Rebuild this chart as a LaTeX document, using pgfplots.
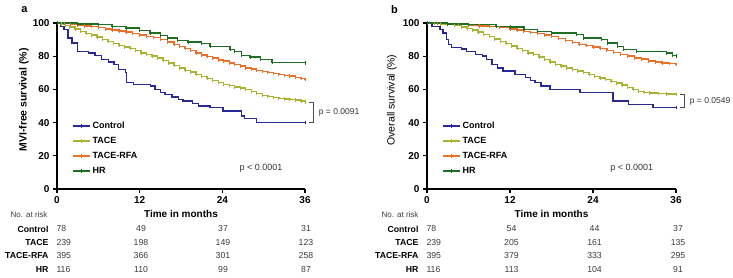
\documentclass[border=0pt]{standalone}
\usepackage{pgfplots}
\pgfplotsset{compat=1.18}
\usepackage{fontspec}
\setmainfont{Liberation Sans}
\definecolor{cctrl}{RGB}{40,40,150}
\definecolor{ctace}{RGB}{170,178,50}
\definecolor{crfa}{RGB}{232,112,40}
\definecolor{chr}{RGB}{30,110,35}
\definecolor{numgray}{RGB}{60,60,60}

\pgfplotsset{
 km/.style={const plot, line width=1.4pt, mark=|, mark size=1.7pt, mark options={solid,line width=0.7pt}},
 kmaxis/.style={
  scale only axis, height=166pt,
  xmin=0, xmax=36, ymin=0, ymax=100,
  axis x line*=bottom, axis y line*=left,
  axis line style={line width=1.4pt,-},
  xtick={0,12,24,36}, ytick={0,20,40,60,80,100},
  tick align=outside, major tick length=4pt,
  tick style={line width=1.1pt,black},
  ticklabel style={font=\fontsize{10}{12}\selectfont\bfseries},
  /pgf/number format/assume math mode=true,
  clip=false,
  legend style={at={(0.048,0.43)}, anchor=north west, draw=none, fill=none,
    font=\fontsize{9}{11}\selectfont\bfseries, row sep=3.2pt, cells={anchor=west}},
  legend cell align=left,
 }
}

\begin{document}
\begin{tikzpicture}
\path[use as bounding box] (0,0) rectangle (733pt,278pt);

% ---------------- Panel a ----------------
\begin{axis}[kmaxis, width=248pt, at={(57pt,89pt)}, anchor=south west]
\addlegendimage{km, cctrl}\addlegendentry{Control}
\addlegendimage{km, ctace}\addlegendentry{TACE}
\addlegendimage{km, crfa}\addlegendentry{TACE-RFA}
\addlegendimage{km, chr}\addlegendentry{HR}
% Control
\addplot[km, cctrl, mark indices={30}, forget plot] coordinates {
(0,100)(0.5,98)(1,96)(1.6,91)(2.2,88)(3,83)(4.6,82)(5.5,80.5)(6.5,78)(7.5,76.5)
(8.3,75)(8.9,72)(9.9,70)(10.1,64)(11.1,63)(13.6,62)(14.2,60)(15,58)(15.7,57)(16.7,55.5)
(17.6,54)(18.3,53)(19.7,51.5)(20.5,50)(22.2,49)(24.1,47)(26.8,44)(27.2,42.5)(29,40)(36,40)};
% TACE
\addplot[km, ctace, forget plot] coordinates {
(0,100)(0.6,99.5)(1.2,98.5)(1.8,97.5)(2.6,96.3)(3.4,95)(4.2,93.8)(5,92.8)(5.8,91.5)(6.6,90)
(7.4,89)(8.2,87.8)(9,86.5)(9.8,85.5)(10.6,84.5)(11.4,83.3)(12.2,82)(13,81)(13.8,80)(14.6,79)
(15.4,77.5)(16.2,76)(17,74.5)(17.8,73)(18.6,71.5)(19.4,70.5)(20.2,69)(21,67.8)(21.8,66.5)(22.6,65.2)
(23.4,64)(24.2,63)(25,62.2)(25.8,61.4)(26.6,60.8)(27.4,60)(28.2,58.8)(29,57.6)(29.8,56.5)(30.6,55.7)
(31.4,55)(32.2,54.5)(33,54.2)(33.8,54)(34.6,53.5)(35.4,53)(36,52.5)};
% TACE-RFA
\addplot[km, crfa, forget plot] coordinates {
(0,100)(1,99.6)(2,99.2)(3,98.8)(4,98.3)(5,97.8)(6,97.2)(7,96.5)(8,95.8)(9,95.2)
(10,94.5)(11,93.7)(12,92.8)(13,92)(14,91.2)(15,90)(16,88.5)(17,87)(17.8,85.8)(18.6,84.8)
(19.4,83.5)(20.2,82)(21,80.8)(21.8,79.8)(22.6,78.8)(23.4,77.8)(24.2,77)(25,76)(25.8,75)(26.6,74)
(27.4,73)(28.2,72.3)(29,71.5)(29.8,70.8)(30.6,70.2)(31.4,69.6)(32.2,69)(33,68.5)(33.8,68)(34.6,67.2)
(35.4,66.5)(36,66)};
% HR
\addplot[km, chr, forget plot] coordinates {
(0,100)(3,99.5)(6,99)(8,98)(10,97)(12,95.5)(13.5,94)(15,92.5)(16,91)(17.5,89.5)
(19,88.5)(21,87.5)(22.2,86)(25.1,84)(25.8,83)(26.8,80.5)(28,79.5)(29.5,78)(31.2,76.3)(36,76)};
\draw[line width=0.6pt, black!70] (axis cs:36.6,52) -- (axis cs:37.2,52) -- (axis cs:37.2,40) -- (axis cs:36.6,40);
\node[anchor=west, font=\fontsize{8.5}{10}\selectfont, black!80] at (axis cs:37.5,46) {p = 0.0091};
\node[font=\fontsize{9}{11}\selectfont, black!80] at (axis cs:29.6,12.7) {p < 0.0001};
\end{axis}

% ---------------- Panel b ----------------
\begin{axis}[kmaxis, width=249pt, at={(427pt,89pt)}, anchor=south west]
\addlegendimage{km, cctrl}\addlegendentry{Control}
\addlegendimage{km, ctace}\addlegendentry{TACE}
\addlegendimage{km, crfa}\addlegendentry{TACE-RFA}
\addlegendimage{km, chr}\addlegendentry{HR}
% Control
\addplot[km, cctrl, mark indices={26}, forget plot] coordinates {
(0,100)(0.7,98)(1.9,96)(2.3,94)(2.8,90)(3.1,87)(3.5,85.4)(5,84.3)(5.7,83)(7,81)
(8,80)(8.6,78)(9.4,75)(10.2,73)(11,71)(12.7,69)(14.2,67)(15,65.5)(15.6,64)(16.5,62)
(17.8,60)(22.1,58)(26.9,53)(29.1,51)(32.7,49.2)(36,49)};
% TACE
\addplot[km, ctace, forget plot] coordinates {
(0,100)(1,99.8)(2,99.5)(3,99)(4,98.5)(5,97.5)(5.8,96.8)(6.6,95.8)(7.4,94.5)(8.2,93.2)
(9,91.8)(9.8,90.4)(10.6,89)(11.4,87.6)(12.2,86.2)(13,84.8)(13.8,83.4)(14.6,82)(15.4,81)(16.2,79.6)
(17,78)(17.8,76.5)(18.6,75)(19.4,74)(20.2,72.8)(21,72)(21.8,71.2)(22.6,70.2)(23.4,69)(24.2,67.8)
(25,66.8)(25.8,65.8)(26.6,64.8)(27.4,63.8)(28.2,62.6)(29,61.2)(29.8,59.8)(30.6,58.8)(31.4,58.2)(32.2,57.8)
(33.4,57.6)(34.6,57.3)(36,57)};
% TACE-RFA
\addplot[km, crfa, forget plot] coordinates {
(0,100)(1.5,99.7)(3,99.4)(4.5,99)(6,98.6)(7.5,98.2)(9,97.8)(10.5,97.2)(12,96.5)(13,95.8)
(14,95)(15,94.2)(16,93.5)(17,92.8)(18,92)(19,90.8)(20,89.5)(21,88.2)(22,87.2)(23,86.3)
(24,85.5)(25,84.5)(26,83.5)(27,82.2)(28,81)(29,80)(30,79)(31,78.2)(32,77.2)(33,76.5)
(34,76)(35,75.5)(36,75)};
% HR
\addplot[km, chr, forget plot] coordinates {
(0,100)(3,99.5)(6,99)(10,98)(12,97.5)(14,96)(16,95)(18,94)(21.6,93)(22.6,91)
(25.2,90)(26.1,88)(27.5,86)(28.4,84)(30.3,83)(34.6,82)(35.5,80.5)(36,80)};
\draw[line width=0.6pt, black!70] (axis cs:36.6,57) -- (axis cs:37.2,57) -- (axis cs:37.2,49) -- (axis cs:36.6,49);
\node[anchor=west, font=\fontsize{8.5}{10}\selectfont, black!80] at (axis cs:37.5,53) {p = 0.0549};
\node[font=\fontsize{9}{11}\selectfont, black!80] at (axis cs:29.6,12.7) {p < 0.0001};
\end{axis}

% ---------------- labels ----------------
\node[font=\fontsize{11}{13}\selectfont\bfseries] at (24.5pt,268pt) {a};
\node[font=\fontsize{11}{13}\selectfont\bfseries] at (394.5pt,268pt) {b};
\node[rotate=90, font=\fontsize{10.5}{12}\selectfont\bfseries] at (24pt,178pt) {MVI-free survival (\%)};
\node[rotate=90, font=\fontsize{10.5}{12}\selectfont] at (392pt,178pt) {Overall survival (\%)};
\node[font=\fontsize{10}{12}\selectfont\bfseries] at (181pt,64pt) {Time in months};
\node[font=\fontsize{10}{12}\selectfont\bfseries] at (551.5pt,64pt) {Time in months};
\node[anchor=east, font=\fontsize{8}{10}\selectfont, numgray] at (51pt,63pt) {No. at risk};
\node[anchor=east, font=\fontsize{8}{10}\selectfont, numgray] at (422pt,63pt) {No. at risk};

\foreach \lab/\yy/\na/\nb/\nc/\nd in {Control/49/78/49/37/31, TACE/35.7/239/198/149/123, TACE-RFA/22/395/366/301/258, HR/8.7/116/110/99/87}{
  \node[anchor=east, font=\fontsize{8.7}{10}\selectfont\bfseries] at (52pt,\yy pt) {\lab};
  \node[anchor=west, font=\fontsize{8.7}{10}\selectfont, numgray] at (53pt,\yy pt) {\na};
  \node[font=\fontsize{8.7}{10}\selectfont, numgray] at (141pt,\yy pt) {\nb};
  \node[font=\fontsize{8.7}{10}\selectfont, numgray] at (223pt,\yy pt) {\nc};
  \node[font=\fontsize{8.7}{10}\selectfont, numgray] at (306pt,\yy pt) {\nd};
}
\foreach \lab/\yy/\na/\nb/\nc/\nd in {Control/49/78/54/44/37, TACE/35.7/239/205/161/135, TACE-RFA/22/395/379/333/295, HR/8.7/116/113/104/91}{
  \node[anchor=east, font=\fontsize{8.7}{10}\selectfont\bfseries] at (422pt,\yy pt) {\lab};
  \node[anchor=west, font=\fontsize{8.7}{10}\selectfont, numgray] at (423pt,\yy pt) {\na};
  \node[font=\fontsize{8.7}{10}\selectfont, numgray] at (511.5pt,\yy pt) {\nb};
  \node[font=\fontsize{8.7}{10}\selectfont, numgray] at (594.5pt,\yy pt) {\nc};
  \node[font=\fontsize{8.7}{10}\selectfont, numgray] at (678pt,\yy pt) {\nd};
}
\end{tikzpicture}
\end{document}
